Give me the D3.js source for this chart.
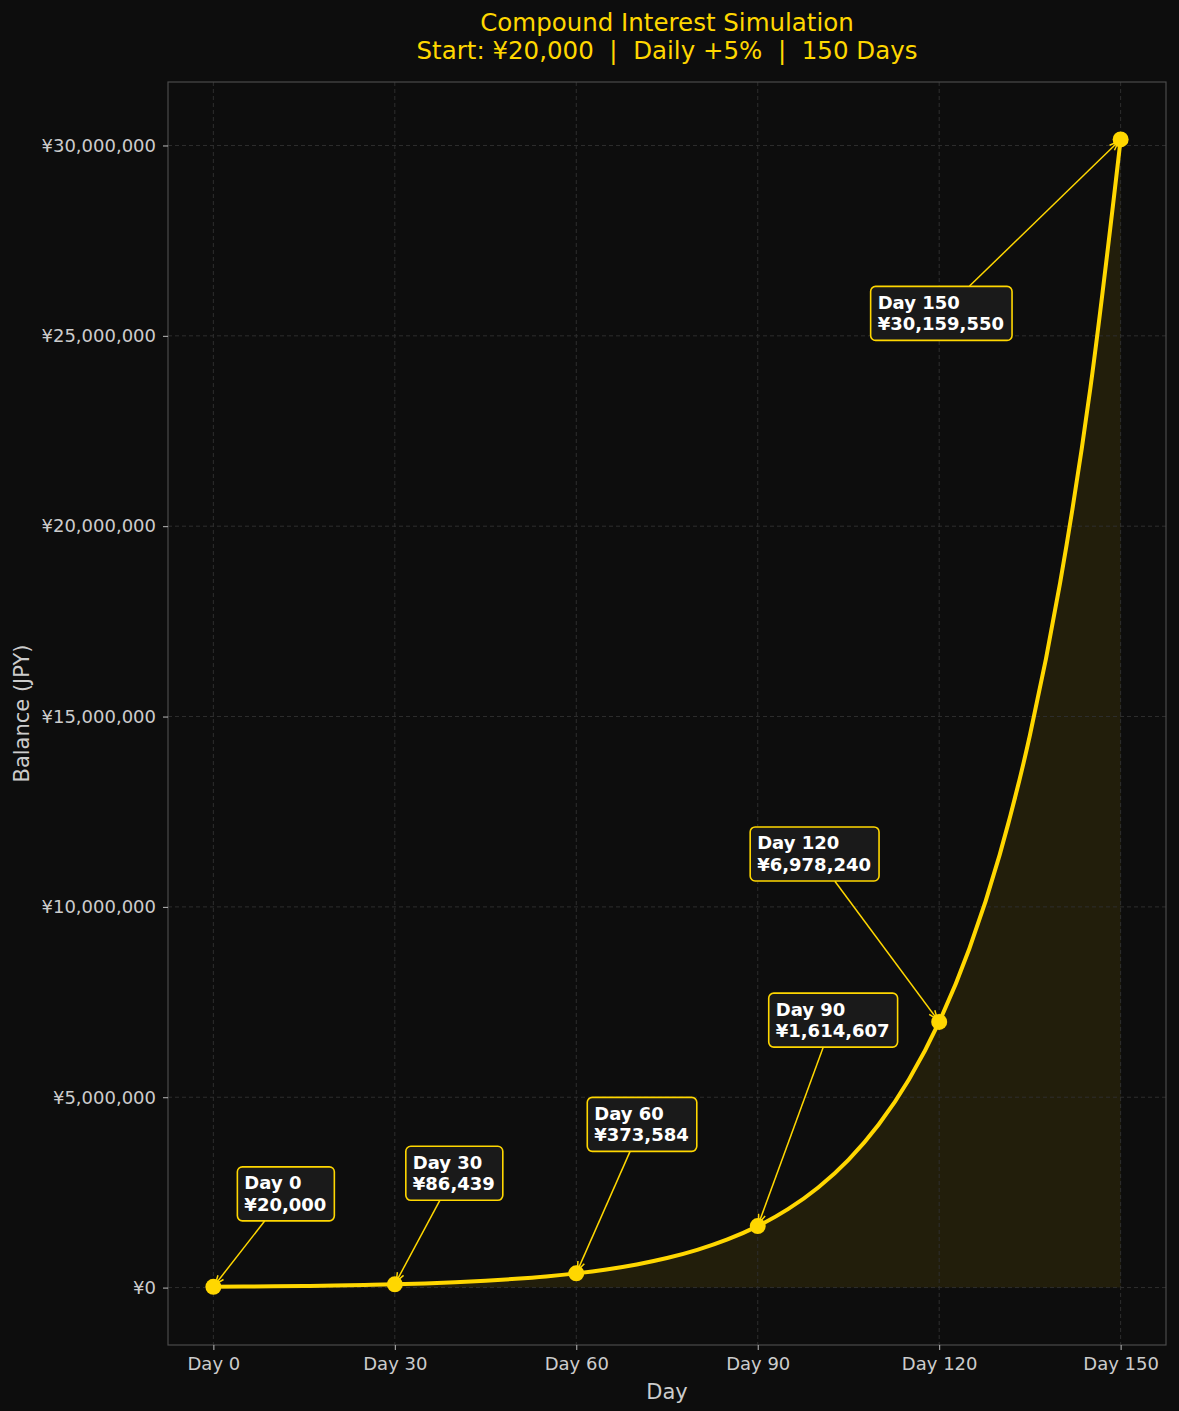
<!DOCTYPE html>
<html>
<head>
<meta charset="utf-8">
<script src="https://cdn.jsdelivr.net/npm/d3@7"></script>
<style>
  html, body { margin: 0; padding: 0; background: #0d0d0d; }
  svg { display: block; }
  text { font-family: "DejaVu Sans", sans-serif; }
</style>
</head>
<body>
<svg id="chart" width="1179" height="1411"></svg>
<script>
// ---- data ----
const days = [0,5,10,15,20,25,30,35,40,45,50,55,60,65,70,75,80,85,90,95,100,105,110,115,120,125,130,135,140,145,150];
const balances = [20000,25526,32578,41579,53066,67727,86439,110320,140800,179700,229348,292714,373584,476800,608528,776650,991229,1265080,1614607,2060700,2630025,3356600,4284034,5467600,6978240,8906200,11366800,14507200,18515340,23630800,30159550];
const markerDays = [0,30,60,90,120,150];
const markerBalances = [20000,86439,373584,1614607,6978240,30159550];
const xTickValues = [0,30,60,90,120,150];
const xTickLabels = ["Day 0","Day 30","Day 60","Day 90","Day 120","Day 150"];
const yTickValues = [0,5000000,10000000,15000000,20000000,25000000,30000000];
const titleLines = ["Compound Interest Simulation","Start: ¥20,000  |  Daily +5%  |  150 Days"];

// ---- layout ----
const W = 1179, H = 1411;
const plot = {left: 168, right: 1166, top: 82, bottom: 1345};
const annotOffsets = [[24,-120],[11,-138],[11,-176],[11,-233],[-189,-195],[-250,147]];
const GOLD = "#FFD700";

const svg = d3.select("#chart");
svg.append("rect").attr("width", W).attr("height", H).attr("fill", "#0d0d0d");

const yMax = d3.max(balances);
const xPad = (d3.max(days) - d3.min(days)) * 0.05;
const yPad = yMax * 0.05;
const x = d3.scaleLinear().domain([d3.min(days) - xPad, d3.max(days) + xPad]).range([plot.left, plot.right]);
const y = d3.scaleLinear().domain([-yPad, yMax + yPad]).range([plot.bottom, plot.top]);

const pts = days.map((d, i) => ({d, v: balances[i]}));

// fill
const area = d3.area().x(p => x(p.d)).y0(y(0)).y1(p => y(p.v)).curve(d3.curveMonotoneX);
svg.append("path").datum(pts).attr("d", area).attr("fill", GOLD).attr("fill-opacity", 0.09);

// grid
const grid = svg.append("g");
grid.selectAll("line.v").data(xTickValues).enter().append("line")
  .attr("x1", d => x(d)).attr("x2", d => x(d))
  .attr("y1", plot.top).attr("y2", plot.bottom)
  .attr("stroke", "#2e2e2e").attr("stroke-width", 1).attr("stroke-dasharray", "4,3");
grid.selectAll("line.h").data(yTickValues).enter().append("line")
  .attr("y1", d => y(d)).attr("y2", d => y(d))
  .attr("x1", plot.left).attr("x2", plot.right)
  .attr("stroke", "#2e2e2e").attr("stroke-width", 1).attr("stroke-dasharray", "4,3");

// line
const line = d3.line().x(p => x(p.d)).y(p => y(p.v)).curve(d3.curveMonotoneX);
svg.append("path").datum(pts).attr("d", line).attr("fill", "none")
  .attr("stroke", GOLD).attr("stroke-width", 4).attr("stroke-linejoin", "round");

// markers
svg.selectAll("circle.m").data(markerDays).enter().append("circle")
  .attr("cx", d => x(d)).attr("cy", (d, i) => y(markerBalances[i]))
  .attr("r", 8).attr("fill", GOLD);

// spines
svg.append("rect").attr("x", plot.left).attr("y", plot.top)
  .attr("width", plot.right - plot.left).attr("height", plot.bottom - plot.top)
  .attr("fill", "none").attr("stroke", "#4a4a4a").attr("stroke-width", 1.2);

// axes
const xAxis = d3.axisBottom(x).tickValues(xTickValues).tickFormat((d, i) => xTickLabels[i]).tickSize(5).tickPadding(7);
const gx = svg.append("g").attr("transform", `translate(0,${plot.bottom})`).call(xAxis);
gx.select(".domain").remove();
gx.selectAll(".tick line").attr("stroke", "#bbbbbb");
gx.selectAll(".tick text").attr("fill", "#cccccc").style("font-size", "18px").style("font-family", "DejaVu Sans");

const fmt = d3.format(",");
const yAxis = d3.axisLeft(y).tickValues(yTickValues).tickFormat(d => "¥" + fmt(d)).tickSize(5).tickPadding(7);
const gy = svg.append("g").attr("transform", `translate(${plot.left},0)`).call(yAxis);
gy.select(".domain").remove();
gy.selectAll(".tick line").attr("stroke", "#bbbbbb");
gy.selectAll(".tick text").attr("fill", "#cccccc").style("font-size", "18px").style("font-family", "DejaVu Sans");

// axis labels
svg.append("text").attr("x", (plot.left + plot.right) / 2).attr("y", 1399)
  .attr("text-anchor", "middle").attr("fill", "#cccccc").style("font-size", "21px").text("Day");
svg.append("text").attr("transform", `translate(29,${(plot.top + plot.bottom) / 2}) rotate(-90)`)
  .attr("text-anchor", "middle").attr("fill", "#cccccc").style("font-size", "21px").text("Balance (JPY)");

// title
svg.append("text").attr("x", (plot.left + plot.right) / 2).attr("y", 31)
  .attr("text-anchor", "middle").attr("fill", GOLD).style("font-size", "24.5px").text(titleLines[0]);
svg.append("text").attr("x", (plot.left + plot.right) / 2).attr("y", 59)
  .attr("text-anchor", "middle").attr("fill", GOLD).style("font-size", "24.5px").style("white-space", "pre")
  .attr("xml:space", "preserve").text(titleLines[1]);

// annotations
svg.append("defs").append("marker").attr("id", "ah")
  .attr("viewBox", "0 0 10 10").attr("refX", 10).attr("refY", 5)
  .attr("markerWidth", 10).attr("markerHeight", 10).attr("markerUnits", "userSpaceOnUse")
  .attr("orient", "auto")
  .append("path").attr("d", "M1,1.5 L10,5 L1,8.5").attr("fill", "none")
  .attr("stroke", GOLD).attr("stroke-width", 1.5);

const annG = svg.append("g");
markerDays.forEach((d, i) => {
  const px = x(d), py = y(markerBalances[i]);
  const bx = px + annotOffsets[i][0], by = py + annotOffsets[i][1];
  const g = annG.append("g");
  const rect = g.append("rect");
  const t1 = g.append("text").attr("x", bx + 7).attr("y", by + 22.5)
    .attr("fill", "#ffffff").style("font-size", "18px").style("font-weight", "bold").text("Day " + d);
  const t2 = g.append("text").attr("x", bx + 7).attr("y", by + 44)
    .attr("fill", "#ffffff").style("font-size", "18px").style("font-weight", "bold").text("¥" + fmt(markerBalances[i]));
  const tw = Math.max(t1.node().getComputedTextLength(), t2.node().getComputedTextLength());
  const bw = tw + 15, bh = 54;
  rect.attr("x", bx).attr("y", by).attr("width", bw).attr("height", bh)
    .attr("rx", 5).attr("ry", 5).attr("fill", "#1a1a1a").attr("stroke", GOLD).attr("stroke-width", 1.6);
  const cx = bx + bw / 2, cy = by + bh / 2;
  const dx = px - cx, dy = py - cy;
  const tx = dx !== 0 ? (bw / 2) / Math.abs(dx) : Infinity;
  const ty = dy !== 0 ? (bh / 2) / Math.abs(dy) : Infinity;
  const t0 = Math.min(tx, ty) + 0.002;
  const len = Math.hypot(dx, dy);
  const tEnd = 1 - 3 / len;
  annG.insert("line", ":first-child")
    .attr("x1", cx + dx * t0).attr("y1", cy + dy * t0)
    .attr("x2", cx + dx * tEnd).attr("y2", cy + dy * tEnd)
    .attr("stroke", GOLD).attr("stroke-width", 1.5).attr("marker-end", "url(#ah)");
});
</script>
</body>
</html>
